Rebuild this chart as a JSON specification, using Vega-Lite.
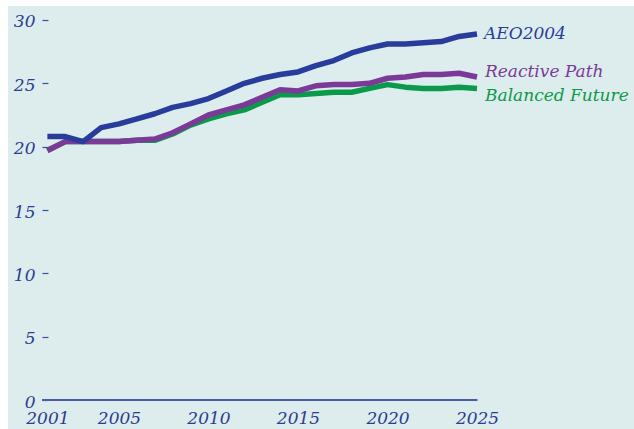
{
  "$schema": "https://vega.github.io/schema/vega-lite/v6.json",
  "width": 626,
  "height": 423,
  "autosize": {"type": "none"},
  "padding": {"left": 8, "top": 6, "right": 0, "bottom": 0},
  "background": "white",
  "config": {"view": {"fill": "#ddecec", "stroke": null}},
  "data": {"values": [
    {"year": 2001, "series": "AEO2004", "value": 20.8},
    {"year": 2002, "series": "AEO2004", "value": 20.8},
    {"year": 2003, "series": "AEO2004", "value": 20.4},
    {"year": 2004, "series": "AEO2004", "value": 21.5},
    {"year": 2005, "series": "AEO2004", "value": 21.8},
    {"year": 2006, "series": "AEO2004", "value": 22.2},
    {"year": 2007, "series": "AEO2004", "value": 22.6},
    {"year": 2008, "series": "AEO2004", "value": 23.1},
    {"year": 2009, "series": "AEO2004", "value": 23.4},
    {"year": 2010, "series": "AEO2004", "value": 23.8},
    {"year": 2011, "series": "AEO2004", "value": 24.4},
    {"year": 2012, "series": "AEO2004", "value": 25.0},
    {"year": 2013, "series": "AEO2004", "value": 25.4},
    {"year": 2014, "series": "AEO2004", "value": 25.7},
    {"year": 2015, "series": "AEO2004", "value": 25.9},
    {"year": 2016, "series": "AEO2004", "value": 26.4},
    {"year": 2017, "series": "AEO2004", "value": 26.8},
    {"year": 2018, "series": "AEO2004", "value": 27.4},
    {"year": 2019, "series": "AEO2004", "value": 27.8},
    {"year": 2020, "series": "AEO2004", "value": 28.1},
    {"year": 2021, "series": "AEO2004", "value": 28.1},
    {"year": 2022, "series": "AEO2004", "value": 28.2},
    {"year": 2023, "series": "AEO2004", "value": 28.3},
    {"year": 2024, "series": "AEO2004", "value": 28.7},
    {"year": 2025, "series": "AEO2004", "value": 28.9},
    {"year": 2001, "series": "Reactive Path", "value": 19.7},
    {"year": 2002, "series": "Reactive Path", "value": 20.4},
    {"year": 2003, "series": "Reactive Path", "value": 20.4},
    {"year": 2004, "series": "Reactive Path", "value": 20.4},
    {"year": 2005, "series": "Reactive Path", "value": 20.4},
    {"year": 2006, "series": "Reactive Path", "value": 20.5},
    {"year": 2007, "series": "Reactive Path", "value": 20.6},
    {"year": 2008, "series": "Reactive Path", "value": 21.1},
    {"year": 2009, "series": "Reactive Path", "value": 21.8},
    {"year": 2010, "series": "Reactive Path", "value": 22.5},
    {"year": 2011, "series": "Reactive Path", "value": 22.9},
    {"year": 2012, "series": "Reactive Path", "value": 23.3},
    {"year": 2013, "series": "Reactive Path", "value": 23.9},
    {"year": 2014, "series": "Reactive Path", "value": 24.5},
    {"year": 2015, "series": "Reactive Path", "value": 24.4},
    {"year": 2016, "series": "Reactive Path", "value": 24.8},
    {"year": 2017, "series": "Reactive Path", "value": 24.9},
    {"year": 2018, "series": "Reactive Path", "value": 24.9},
    {"year": 2019, "series": "Reactive Path", "value": 25.0},
    {"year": 2020, "series": "Reactive Path", "value": 25.4},
    {"year": 2021, "series": "Reactive Path", "value": 25.5},
    {"year": 2022, "series": "Reactive Path", "value": 25.7},
    {"year": 2023, "series": "Reactive Path", "value": 25.7},
    {"year": 2024, "series": "Reactive Path", "value": 25.8},
    {"year": 2025, "series": "Reactive Path", "value": 25.5},
    {"year": 2001, "series": "Balanced Future", "value": 19.7},
    {"year": 2002, "series": "Balanced Future", "value": 20.4},
    {"year": 2003, "series": "Balanced Future", "value": 20.4},
    {"year": 2004, "series": "Balanced Future", "value": 20.4},
    {"year": 2005, "series": "Balanced Future", "value": 20.4},
    {"year": 2006, "series": "Balanced Future", "value": 20.5},
    {"year": 2007, "series": "Balanced Future", "value": 20.5},
    {"year": 2008, "series": "Balanced Future", "value": 21.0},
    {"year": 2009, "series": "Balanced Future", "value": 21.7},
    {"year": 2010, "series": "Balanced Future", "value": 22.2},
    {"year": 2011, "series": "Balanced Future", "value": 22.6},
    {"year": 2012, "series": "Balanced Future", "value": 22.9},
    {"year": 2013, "series": "Balanced Future", "value": 23.5},
    {"year": 2014, "series": "Balanced Future", "value": 24.1},
    {"year": 2015, "series": "Balanced Future", "value": 24.1},
    {"year": 2016, "series": "Balanced Future", "value": 24.2},
    {"year": 2017, "series": "Balanced Future", "value": 24.3},
    {"year": 2018, "series": "Balanced Future", "value": 24.3},
    {"year": 2019, "series": "Balanced Future", "value": 24.6},
    {"year": 2020, "series": "Balanced Future", "value": 24.9},
    {"year": 2021, "series": "Balanced Future", "value": 24.7},
    {"year": 2022, "series": "Balanced Future", "value": 24.6},
    {"year": 2023, "series": "Balanced Future", "value": 24.6},
    {"year": 2024, "series": "Balanced Future", "value": 24.7},
    {"year": 2025, "series": "Balanced Future", "value": 24.6}
  ]},
  "encoding": {
    "x": {"field": "year", "type": "quantitative",
      "scale": {"domain": [1998.8, 2033.77], "nice": false, "zero": false},
      "axis": {"title": null, "values": [2001, 2005, 2010, 2015, 2020, 2025], "format": "d",
        "offset": -29, "domain": false, "ticks": false, "grid": false, "labelPadding": 10,
        "labelFont": "DejaVu Serif", "labelFontStyle": "italic", "labelFontSize": 17,
        "labelColor": "#2b3c92", "labelFlush": false, "labelOverlap": false}},
    "y": {"field": "value", "type": "quantitative",
      "scale": {"domain": [-2.289, 31.105], "nice": false, "zero": false},
      "axis": {"title": null, "values": [0, 5, 10, 15, 20, 25, 30],
        "offset": -40, "domain": false, "grid": false, "tickSize": 6, "tickWidth": 1.2,
        "tickColor": "#3b4f9f", "labelPadding": 7, "labelOffset": 2,
        "labelFont": "DejaVu Serif", "labelFontStyle": "italic", "labelFontSize": 17,
        "labelColor": "#2b3c92", "labelFlush": false, "labelOverlap": false}}
  },
  "layer": [
    {"mark": {"type": "rule", "color": "#4a5ca6", "strokeWidth": 2},
     "encoding": {"x": {"datum": 2000.7}, "x2": {"datum": 2025}, "y": {"datum": 0}}},
    {"transform": [{"filter": "datum.series === 'Balanced Future'"}],
     "mark": {"type": "line", "color": "#0b9a4b", "strokeWidth": 5.5, "strokeJoin": "round"}},
    {"transform": [{"filter": "datum.series === 'Reactive Path'"}],
     "mark": {"type": "line", "color": "#7b3a98", "strokeWidth": 5.5, "strokeJoin": "round"}},
    {"transform": [{"filter": "datum.series === 'AEO2004'"}],
     "mark": {"type": "line", "color": "#283d9b", "strokeWidth": 5.5, "strokeJoin": "round"}},
    {"transform": [{"filter": "datum.series === 'AEO2004' && datum.year === 2025"}],
     "mark": {"type": "text", "align": "left", "baseline": "middle", "dx": 7, "dy": 0,
       "font": "DejaVu Serif", "fontStyle": "italic", "fontSize": 17, "color": "#283d9b"},
     "encoding": {"text": {"field": "series"}}},
    {"transform": [{"filter": "datum.series === 'Reactive Path' && datum.year === 2025"}],
     "mark": {"type": "text", "align": "left", "baseline": "middle", "dx": 8, "dy": -5,
       "font": "DejaVu Serif", "fontStyle": "italic", "fontSize": 17, "color": "#7b3a98"},
     "encoding": {"text": {"field": "series"}}},
    {"transform": [{"filter": "datum.series === 'Balanced Future' && datum.year === 2025"}],
     "mark": {"type": "text", "align": "left", "baseline": "middle", "dx": 8, "dy": 8,
       "font": "DejaVu Serif", "fontStyle": "italic", "fontSize": 17, "color": "#0b9a4b"},
     "encoding": {"text": {"field": "series"}}}
  ]
}
